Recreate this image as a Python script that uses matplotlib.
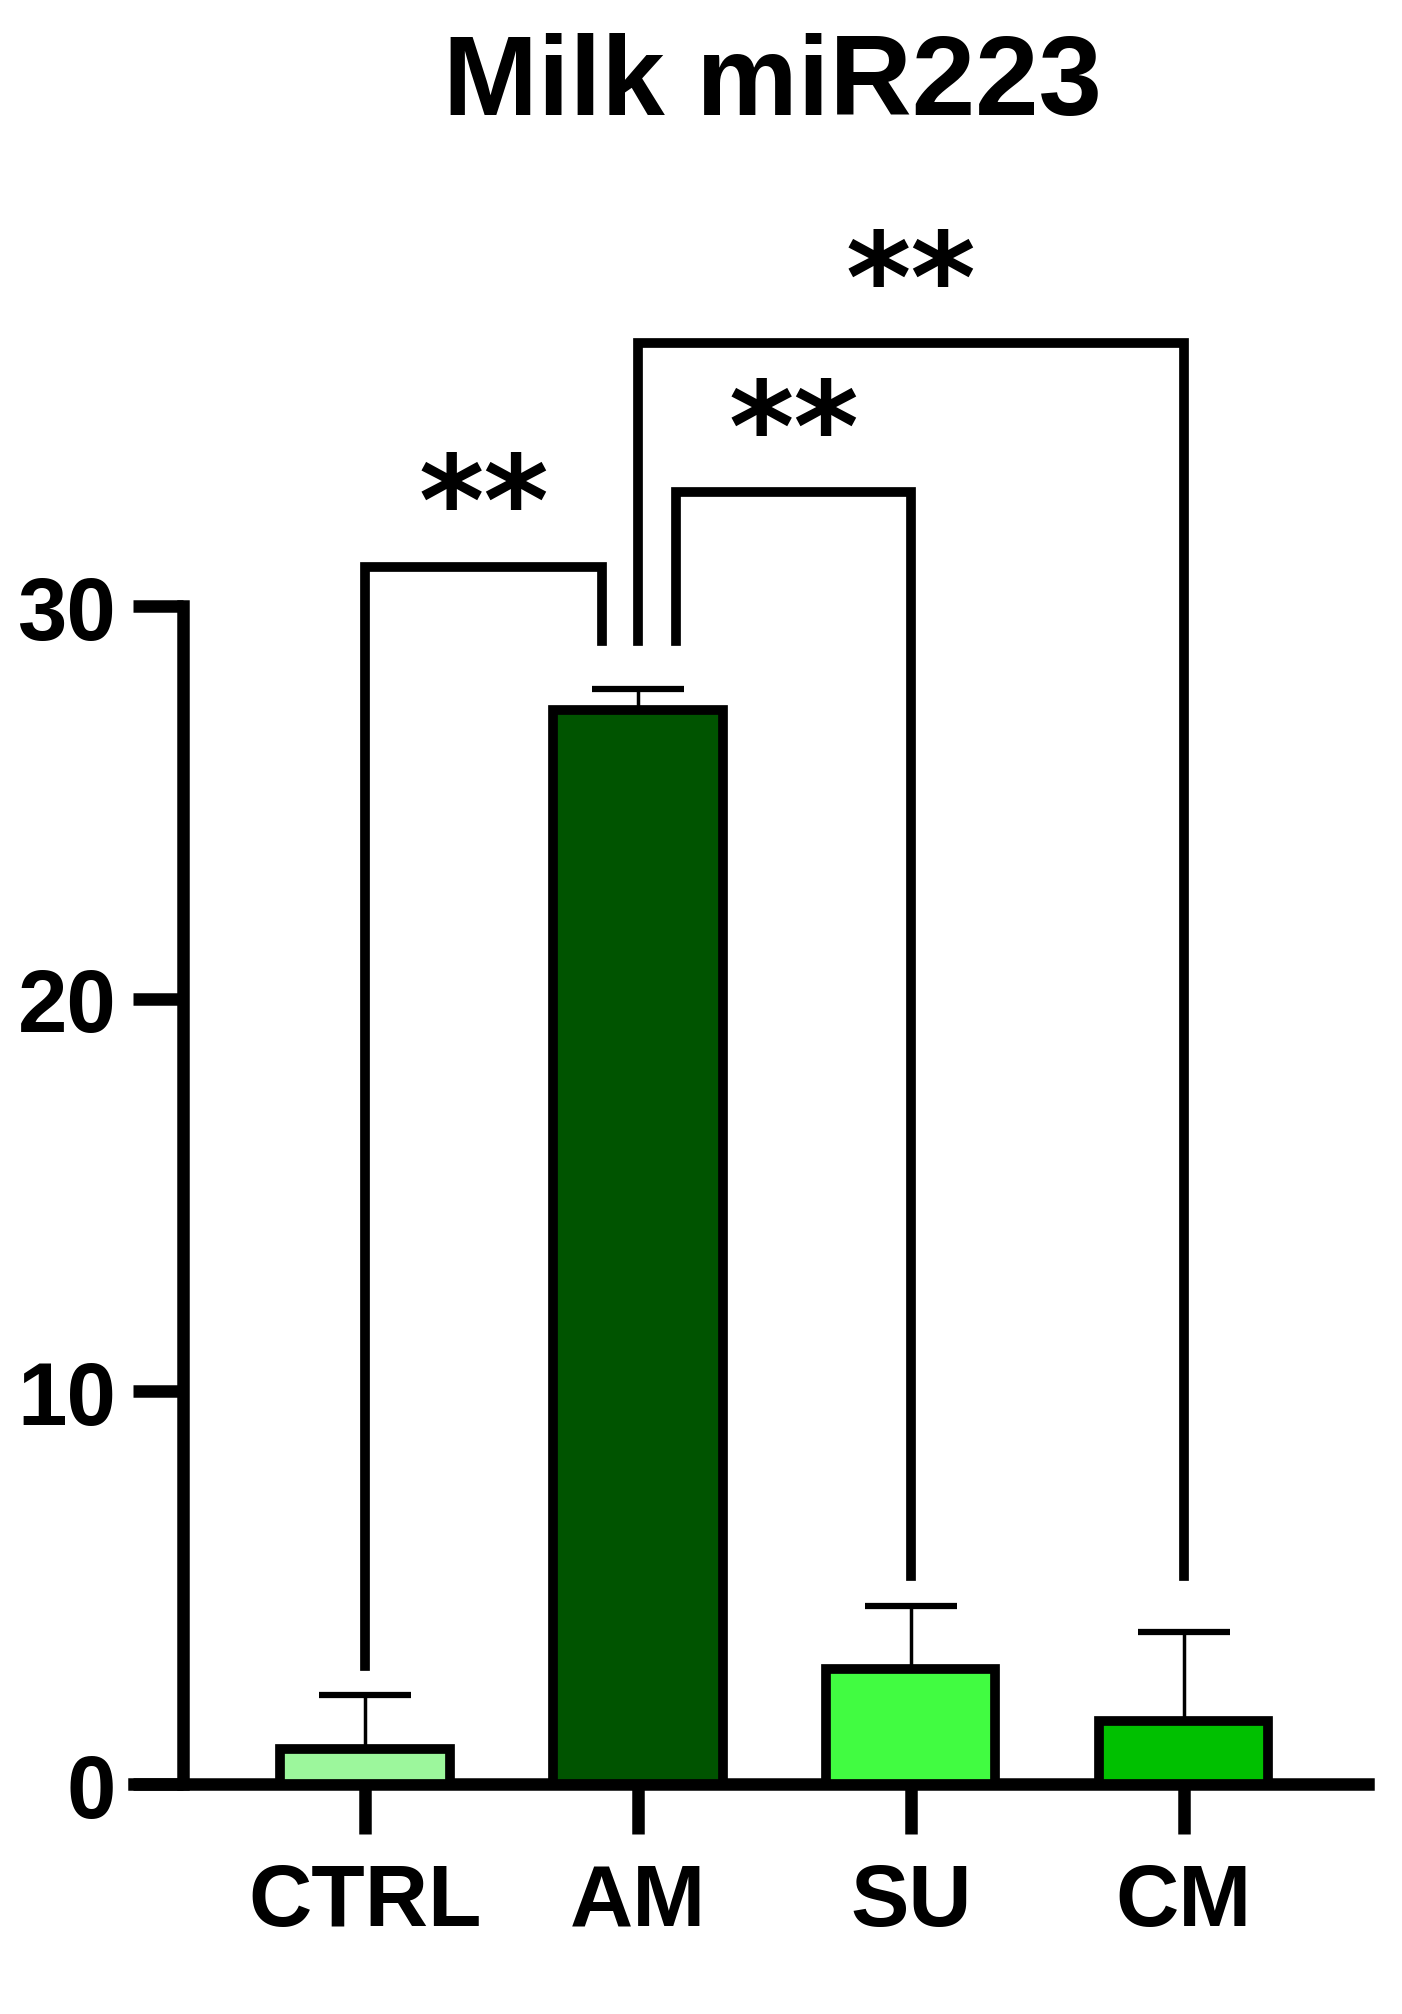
import matplotlib
matplotlib.use("Agg")
from matplotlib import pyplot as plt
import numpy as np

plt.rcParams['font.family'] = ['Liberation Sans', 'DejaVu Sans']
plt.rcParams['font.weight'] = 'bold'

groups = ["CTRL", "AM", "SU", "CM"]
means = [0.9, 27.35, 2.93, 1.6]
sem = [1.36, 0.55, 1.6, 2.27]
colors = ["#9cf79c", "#005400", "#41fc41", "#00c000"]

# significance brackets: (left group, right group, left offset, right offset, top, left leg end, right leg end)
pairs = [(0, 1, 0.0, -0.13, 31.0, 3.0, 29.1),
         (1, 2, 0.14, 0.0, 32.9, 29.1, 5.3),
         (1, 3, 0.0, 0.0, 36.7, 29.1, 5.3)]
stars = ["**", "**", "**"]

lw = 7
axlw = 9

fig = plt.figure(figsize=(14.02, 20.15), dpi=100)
ax = fig.add_axes([0.0956, 0.1141, 0.880, 0.5846])

x = np.arange(len(groups))
ax.bar(x, means, width=0.62, color=colors, edgecolor="black", linewidth=lw, zorder=3)
ax.errorbar(x, means, yerr=[np.zeros(len(sem)), sem], fmt="none", ecolor="black",
            elinewidth=2.5, capsize=33, capthick=4.5, zorder=2)

for (a, b, oa, ob, top, ya, yb), s in zip(pairs, stars):
    xa = x[a] + oa
    xb = x[b] + ob
    ax.plot([xa, xa, xb, xb], [ya, top, top, yb], color="black", lw=lw,
            solid_joinstyle="miter", clip_on=False, zorder=4)
    ax.text((xa + xb) / 2, top + 1.45, s, ha="center", va="center",
            fontsize=90, fontweight="bold", family="DejaVu Sans", clip_on=False)

ax.set_xlim(-0.846, 3.674)
ax.set_ylim(0, 30)
ax.set_yticks([0, 10, 20, 30])
ax.set_xticks(x)
ax.set_xticklabels(groups)

for side in ["top", "right"]:
    ax.spines[side].set_visible(False)
ax.spines["left"].set_position(("data", -0.667))
ax.spines["left"].set_linewidth(axlw)
ax.spines["bottom"].set_linewidth(axlw)
ax.spines["left"].set_capstyle("projecting")
ax.tick_params(axis="both", width=axlw, length=36, labelsize=64, pad=12)
ax.tick_params(axis="x", pad=20, labelsize=63)

fig.text(0.551, 1 - 115 / 2015, "Milk miR223", ha="center", va="baseline",
         fontsize=82, fontweight="bold")

fig.savefig("out.png", dpi=100)
